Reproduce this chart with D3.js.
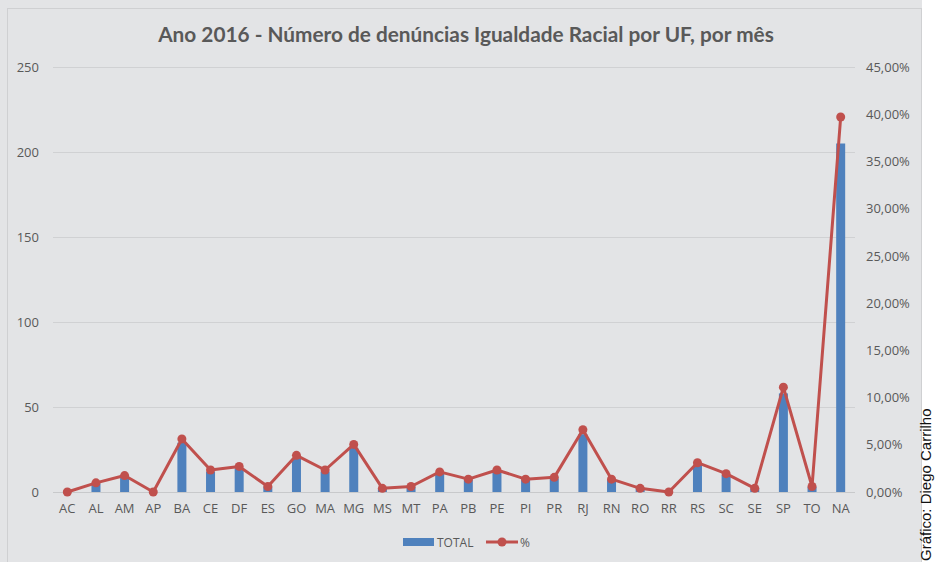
<!DOCTYPE html>
<html>
<head>
<meta charset="utf-8">
<script src="https://cdn.jsdelivr.net/npm/d3@7"></script>
<style>
  html, body { margin: 0; padding: 0; background: #e3e4e6; }
  #chart { width: 935px; height: 562px; }
  text { font-family: Lato, "Open Sans", sans-serif; }
</style>
</head>
<body>
<div id="chart"></div>
<script>
// -------------------------------
// Data
// -------------------------------
const ufs = ["AC","AL","AM","AP","BA","CE","DF","ES","GO","MA","MG","MS","MT","PA",
  "PB","PE","PI","PR","RJ","RN","RO","RR","RS","SC","SE","SP","TO","NA"];
const totals = [0,5,9,0,29,12,14,3,20,12,26,2,3,11,7,12,7,8,34,7,2,0,16,10,2,58,3,205];
const percents = [0,0.97,1.74,0,5.62,2.33,2.71,0.58,3.88,2.33,5.04,0.39,0.58,2.13,
  1.36,2.33,1.36,1.55,6.59,1.36,0.39,0,3.10,1.94,0.39,11.1,0.58,39.7];
const leftTicks = [0,50,100,150,200,250];
const rightTicks = [0,5,10,15,20,25,30,35,40,45];

const W = 935, H = 562;
const margin = { top: 67, right: 80, bottom: 70, left: 53 };
const innerW = 855 - margin.left;
const innerH = 492 - margin.top;

const svg = d3.select("#chart").append("svg")
  .attr("width", W).attr("height", H);

// chart frame + white strip on the right
svg.append("rect").attr("x", 7.5).attr("y", 8.5).attr("width", 914).attr("height", 600)
  .attr("fill", "#e3e4e6").attr("stroke", "#cfd0d2");
svg.append("rect").attr("x", 922).attr("y", 0).attr("width", 13).attr("height", H)
  .attr("fill", "#ffffff");
svg.append("text")
  .attr("transform", "translate(931,561) rotate(-90)")
  .attr("x", 0).attr("y", 0)
  .style("font-family", "'Liberation Sans', Arial, sans-serif")
  .attr("font-size", 15).attr("fill", "#111")
  .text("Gráfico: Diego Carrilho");

// title
svg.append("text")
  .attr("x", 466).attr("y", 42)
  .attr("text-anchor", "middle")
  .attr("font-size", 20.8).attr("font-weight", "bold")
  .attr("fill", "#595959")
  .text("Ano 2016 - Número de denúncias Igualdade Racial por UF, por mês");

const g = svg.append("g").attr("transform", `translate(${margin.left},${margin.top})`);

// scales
const x = d3.scaleBand().domain(ufs).range([0, innerW]);
const yL = d3.scaleLinear().domain([0, 250]).range([innerH, 0]);
const yR = d3.scaleLinear().domain([0, 45]).range([innerH, 0]);

// gridlines
g.selectAll(".grid").data(leftTicks).join("line")
  .attr("x1", 0).attr("x2", innerW)
  .attr("y1", d => yL(d) + 0.5).attr("y2", d => yL(d) + 0.5)
  .attr("stroke", d => d === 0 ? "#c8c9cb" : "#d0d1d3");

// left axis
const axL = g.append("g").call(d3.axisLeft(yL).tickValues(leftTicks).tickSize(0).tickPadding(14));
axL.select(".domain").remove();
axL.selectAll("text").attr("font-size", 13).attr("fill", "#595959")
  .style("font-family", "'Open Sans', sans-serif");

// right axis
const axR = g.append("g").attr("transform", `translate(${innerW},0)`)
  .call(d3.axisRight(yR).tickValues(rightTicks).tickSize(0).tickPadding(11)
    .tickFormat(d => d.toFixed(2).replace(".", ",") + "%"));
axR.select(".domain").remove();
axR.selectAll("text").attr("font-size", 13).attr("fill", "#595959")
  .style("font-family", "'Open Sans', sans-serif");

// bottom axis
const axB = g.append("g").attr("transform", `translate(0,${innerH})`)
  .call(d3.axisBottom(x).tickSize(0).tickPadding(12));
axB.select(".domain").remove();
axB.selectAll("text").attr("font-size", 13).attr("fill", "#595959")
  .style("font-family", "'Open Sans', sans-serif");

// bars
const barW = 9;
g.selectAll(".bar").data(totals).join("rect")
  .attr("x", (d, i) => x(ufs[i]) + x.bandwidth() / 2 - barW / 2)
  .attr("y", d => yL(d))
  .attr("width", barW)
  .attr("height", d => innerH - yL(d))
  .attr("fill", "#4f81bd");

// line
const line = d3.line()
  .x((d, i) => x(ufs[i]) + x.bandwidth() / 2)
  .y(d => yR(d));
g.append("path").datum(percents)
  .attr("d", line).attr("fill", "none")
  .attr("stroke", "#c0504d").attr("stroke-width", 3)
  .attr("stroke-linejoin", "round");
g.selectAll(".pt").data(percents).join("circle")
  .attr("cx", (d, i) => x(ufs[i]) + x.bandwidth() / 2)
  .attr("cy", d => yR(d))
  .attr("r", 4.5)
  .attr("fill", "#c0504d");

// legend
const lg = svg.append("g").attr("transform", "translate(403,542)");
lg.append("rect").attr("x", 0).attr("y", -4).attr("width", 31).attr("height", 8).attr("fill", "#4f81bd");
lg.append("text").attr("x", 34).attr("y", 5).attr("font-size", 12).attr("fill", "#595959")
  .style("font-family", "'Open Sans', sans-serif").text("TOTAL");
lg.append("line").attr("x1", 83).attr("x2", 115).attr("y1", 0).attr("y2", 0)
  .attr("stroke", "#c0504d").attr("stroke-width", 3);
lg.append("circle").attr("cx", 99).attr("cy", 0).attr("r", 4.5).attr("fill", "#c0504d");
lg.append("text").attr("x", 117).attr("y", 5).attr("font-size", 12).attr("fill", "#595959")
  .style("font-family", "'Open Sans', sans-serif").text("%");
</script>
</body>
</html>
